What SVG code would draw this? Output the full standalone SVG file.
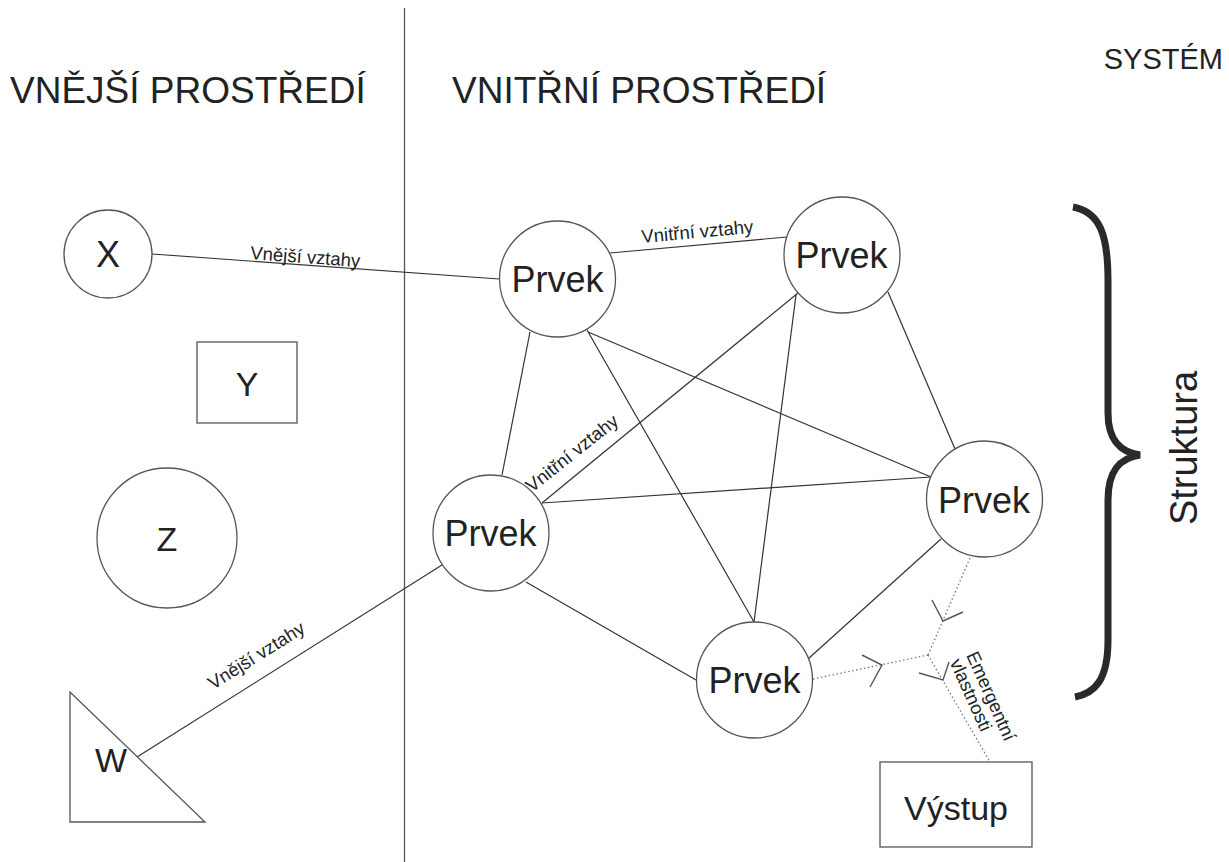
<svg xmlns="http://www.w3.org/2000/svg" width="1229" height="862" viewBox="0 0 1229 862">
<style>
text{font-family:"Liberation Sans",Arial,sans-serif;fill:#222}
.title{font-size:37px}
.node{fill:#fff;stroke:#555;stroke-width:1.3}
.lbl{font-size:36px;text-anchor:middle}
.sm{font-size:18.5px}
.edge{stroke:#333;stroke-width:1.2;fill:none}
.dot{stroke:#777;stroke-width:1.3;stroke-dasharray:1.5 2.5;fill:none}
.arr{stroke:#555;stroke-width:1.4;fill:none}
</style>
<rect width="1229" height="862" fill="#fff"/>
<line x1="404.5" y1="8" x2="404.5" y2="862" stroke="#555" stroke-width="1.3"/>
<text class="title" x="10" y="103">VNĚJŠÍ PROSTŘEDÍ</text>
<text class="title" x="452" y="103">VNITŘNÍ PROSTŘEDÍ</text>
<text x="1223" y="69" text-anchor="end" style="font-size:29px">SYSTÉM</text>
<g id="connectors">
<line class="edge" x1="152" y1="254" x2="499" y2="279"/>
<line class="edge" x1="610" y1="253" x2="787" y2="237"/>
<line class="edge" x1="530" y1="332" x2="502" y2="475"/>
<line class="edge" x1="587" y1="330" x2="754" y2="622"/>
<line class="edge" x1="588" y1="332" x2="931" y2="477"/>
<line class="edge" x1="798" y1="293" x2="542" y2="503"/>
<line class="edge" x1="796" y1="295" x2="754" y2="622"/>
<line class="edge" x1="888" y1="292" x2="955" y2="449"/>
<line class="edge" x1="542" y1="503" x2="931" y2="477"/>
<line class="edge" x1="526" y1="582" x2="696" y2="680"/>
<line class="edge" x1="442" y1="565" x2="137" y2="757"/>
<line class="edge" x1="808" y1="659" x2="941" y2="539"/>
<polyline class="dot" points="970,558 928,655"/>
<polyline class="dot" points="813,679 928,655"/>
<polyline class="dot" points="928,655 990,762"/>
<polyline class="arr" points="932,600 943,621 963,612"/>
<polyline class="arr" points="862,655 882,665 870,687"/>
<polyline class="arr" points="919,673 943,680 949,662"/>
<text class="sm" x="250" y="259" transform="rotate(4.2 250 259)">Vnější vztahy</text>
<text class="sm" x="642" y="243" transform="rotate(-5.2 642 243)">Vnitřní vztahy</text>
<text class="sm" x="532" y="493" transform="rotate(-38.5 532 493)">Vnitřní vztahy</text>
<text class="sm" x="213" y="690" transform="rotate(-32 213 690)">Vnější vztahy</text>
<text class="sm" transform="translate(966 655) rotate(66)"><tspan x="0" y="0">Emergentní</tspan><tspan x="0" y="18">vlastnosti</tspan></text>
</g>
<g id="X"><circle class="node" cx="108" cy="254" r="44"/><text class="lbl" x="108" y="267">X</text></g>
<g id="Y"><rect class="node" x="197" y="342" width="100" height="81"/><text class="lbl" x="247" y="396" style="font-size:34px">Y</text></g>
<g id="Z"><circle class="node" cx="167" cy="538" r="70"/><text class="lbl" x="167" y="551" style="font-size:34px">Z</text></g>
<g id="W"><polygon class="node" points="70,692 70,822 205,822"/><text class="lbl" x="111" y="772" style="font-size:34px">W</text></g>
<g id="P1"><circle class="node" cx="557.5" cy="279" r="58"/><text class="lbl" x="557.5" y="292">Prvek</text></g>
<g id="P2"><circle class="node" cx="842" cy="255" r="58"/><text class="lbl" x="841.5" y="268">Prvek</text></g>
<g id="P3"><circle class="node" cx="984.5" cy="499" r="58"/><text class="lbl" x="984" y="513">Prvek</text></g>
<g id="P4"><circle class="node" cx="491" cy="533" r="58"/><text class="lbl" x="490.5" y="546">Prvek</text></g>
<g id="P5"><circle class="node" cx="754.5" cy="680" r="58"/><text class="lbl" x="754.5" y="693">Prvek</text></g>
<g id="Vystup"><rect class="node" x="880" y="762" width="152" height="85"/><text class="lbl" x="956" y="820" style="font-size:34px">Výstup</text></g>
<g id="Struktura">
<path d="M1073,207 C1100,212 1108,235 1108,280 L1108,413 C1108,440 1120,452 1140,455 C1120,458 1108,470 1108,500 L1108,640 C1108,680 1095,693 1075,697" fill="none" stroke="#2a2a2a" stroke-width="7"/>
<text transform="translate(1197 448) rotate(-90)" text-anchor="middle" style="font-size:38px">Struktura</text>
</g>
</svg>
